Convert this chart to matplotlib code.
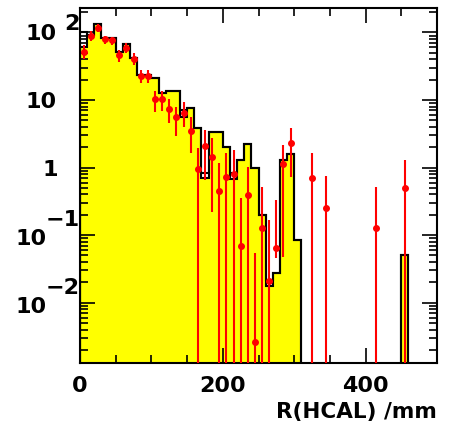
import numpy as np
import matplotlib.pyplot as plt
import matplotlib.ticker as mticker
import matplotlib.transforms as mtrans

# histogram: 10 mm bins from 0 to 500 mm
edges = np.arange(0, 510, 10)
mc_fill = [61, 92, 133, 82.7, 82.7, 52, 67, 41.4, 23.4, 23.4,
           21, 12.6, 13.4, 13.4, 5.66, 7.53, 3.81, 0.70, 3.41, 3.41,
           2.0, 0.68, 1.29, 2.23, 0.976, 0.20, 0.0176, 0.0272, 1.29, 1.59,
           0.0848, 0, 0, 0, 0, 0, 0, 0, 0, 0,
           0, 0, 0, 0, 0, 0.0511, 0, 0, 0, 0]
# bins where the outline histogram sits above the filled one
line_bins = [0, 14, 17, 21, 26]
line_vals = [101, 7.11, 0.84, 0.83, 0.0215]

# data points (bin centres, value, lower end, upper end of error bar)
data_x = [5, 15, 25, 35, 45, 55, 65, 75, 85, 95, 105, 115, 125, 135, 145, 155, 165,
          175, 185, 195, 205, 215, 225, 235, 245, 255, 265, 275, 285, 295,
          325, 345, 415, 455]
data_y = [52, 89, 118, 79, 76, 46.5, 59.5, 41, 23, 23, 10.2, 10.2, 7.3, 5.55, 6.5, 3.5,
          0.96, 2.08, 1.42, 0.45, 0.72, 0.80, 0.069, 0.39, 0.0026, 0.129, 0.021, 0.065,
          1.13, 2.33, 0.71, 0.25, 0.129, 0.50]
data_lo = [41, 75, 103, 67, 65, 37, 49, 33, 18, 18, 6.6, 6.8, 4.5, 2.93, 4.0, 1.66,
           0, 0.65, 0.22, 0, 0, 0, 0, 0, 0, 0, 0, 0.046, 0.047, 0.73, 0, 0, 0, 0]
data_hi = [65, 105, 134, 89, 86, 55, 69, 49, 28, 28, 13.7, 13.5, 10.2, 7.95, 9.4, 5.55,
           1.93, 3.6, 2.71, 1.15, 1.62, 1.82, 0.35, 1.03, 0.055, 0.52, 0.17, 0.33, 2.16,
           3.8, 1.62, 0.75, 0.51, 1.29]

FONT = 'DejaVu Sans'
FS = 16

fig = plt.figure(figsize=(4.49, 4.29), dpi=100)
ax = fig.add_axes([80 / 449, 66 / 429, 357 / 449, 355 / 429])
ax.set_yscale('log', nonpositive='clip')

fill = np.array(mc_fill, dtype=float)
line = fill.copy()
line[line_bins] = line_vals
floor = 1e-6
ax.stairs(np.where(fill > 0, fill, floor), edges, fill=True, color='#ffff00',
          baseline=floor, zorder=1)
ax.stairs(np.where(fill > 0, fill, floor), edges, color='black', lw=1.5,
          baseline=floor, zorder=2)
ax.stairs(np.where(line > 0, line, floor), edges, color='black', lw=1.5,
          baseline=floor, zorder=2)

y = np.array(data_y)
yerr = [y - np.array(data_lo), np.array(data_hi) - y]
ax.errorbar(data_x, y, yerr=yerr, fmt='o', color='#ff0000', ms=4,
            elinewidth=1.5, capsize=0, zorder=3)

ax.set_xlim(0, 500)
ax.set_ylim(0.00128, 230)

ax.set_xticks([0, 200, 400])
ax.xaxis.set_minor_locator(mticker.MultipleLocator(50))
ax.set_xticklabels(['0', '200', '400'], fontsize=FS, family=FONT, weight='bold')
ax.set_yticks([1e-2, 1e-1, 1, 10, 100])
ax.yaxis.set_minor_locator(mticker.LogLocator(subs=np.arange(2, 10), numticks=20))
ax.yaxis.set_minor_formatter(mticker.NullFormatter())
ax.set_yticklabels([])
ax.tick_params(which='both', direction='in', top=True, right=True, width=1.2)
ax.tick_params(which='major', length=11, pad=9)
ax.tick_params(which='minor', length=5.5)
for s in ax.spines.values():
    s.set_linewidth(1.5)

# ROOT-style log labels: "10" with the exponent drawn up against the axis
ytr = mtrans.blended_transform_factory(mtrans.IdentityTransform(), ax.transData)
def ylab(txt, val, xr, dy):
    tr = mtrans.offset_copy(ytr, fig=fig, x=0, y=dy - 8, units='dots')
    ax.text(xr, val, txt, transform=tr, ha='right', va='baseline',
            fontsize=FS, family=FONT, weight='bold', clip_on=False)

ylab('10', 100, 57, 0)
ylab('2', 100, 80, 10)
ylab('10', 10, 57, 0)
ylab('1', 1, 58, 0)
ylab('10', 0.1, 47, -2)
ylab('\u22121', 0.1, 80, 17)
ylab('10', 0.01, 47, -2)
ylab('\u22122', 0.01, 80, 17)

ax.set_xlabel('R(HCAL) /mm', fontsize=15.5, family=FONT, weight='bold',
              ha='right', x=1.0, labelpad=5)

fig.savefig('out.png', dpi=100)
